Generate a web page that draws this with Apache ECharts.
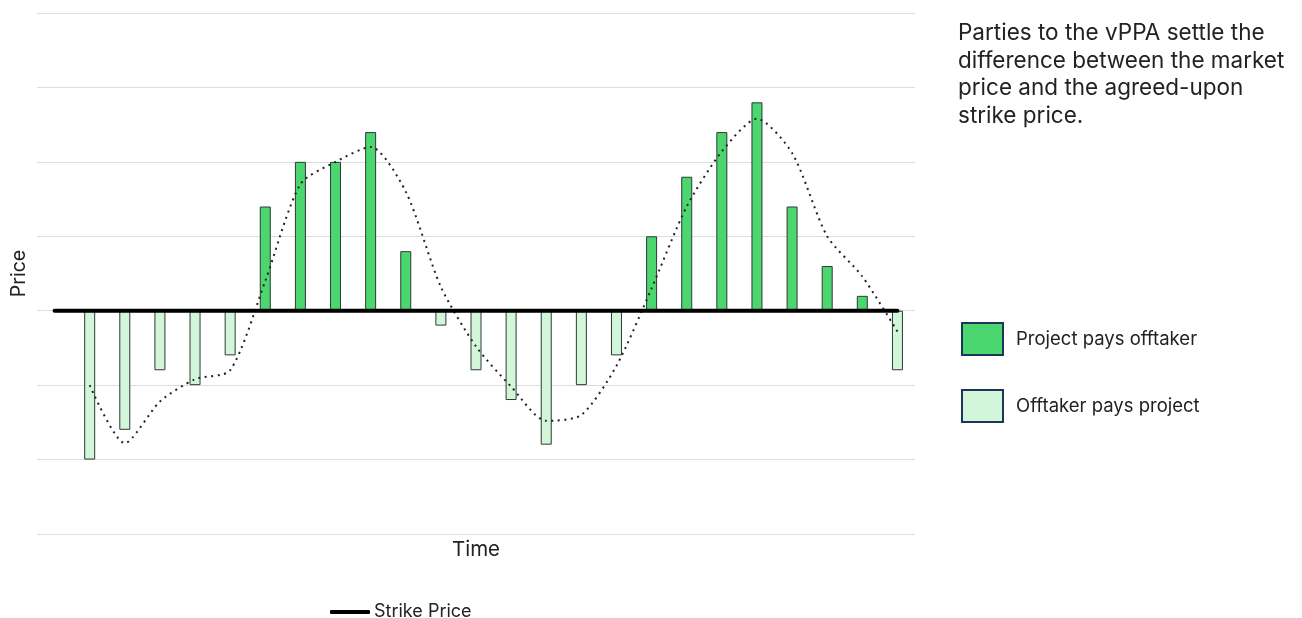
<!DOCTYPE html>
<html>
<head>
<meta charset="utf-8">
<script src="https://cdn.jsdelivr.net/npm/echarts@6/dist/echarts.min.js"></script>
<style>
  html, body { margin: 0; padding: 0; background: #fff; }
  #main { width: 1302px; height: 618px; }
</style>
</head>
<body>
<div id="main"></div>
<script>
// periods (first slot empty so the strike line starts before the first bar)
const periods = ['', 'P1', 'P2', 'P3', 'P4', 'P5', 'P6', 'P7', 'P8', 'P9', 'P10', 'P11', 'P12',
  'P13', 'P14', 'P15', 'P16', 'P17', 'P18', 'P19', 'P20', 'P21', 'P22', 'P23', 'P24']
// settlement amount per period (relative to strike)
const settlement = [null, -10, -8, -4, -5, -3, 7, 10, 10, 12, 4, -1, -4, -6, -9, -5, -3, 5, 9, 12, 14, 7, 3, 1, -4]
// market price relative to strike (dotted)
const marketPrice = [null, -5, -8.9, -6.1, -4.6, -4, 2, 8.5, 10, 11, 8, 1.6, -2.4, -5.1, -7.4, -7, -3.7, 1.5, 7, 10.7, 12.9, 10.6, 5, 2.3, -1.4]
const strike = periods.map(() => 0)

const positive = settlement.map(v => (v !== null && v > 0 ? v : null))
const negative = settlement.map(v => (v !== null && v < 0 ? v : null))

const font = 'Inter, "Noto Sans", sans-serif'
const chart = echarts.init(document.getElementById('main'))

chart.setOption({
  animation: false,
  textStyle: { fontFamily: font },
  title: {
    text: 'Parties to the vPPA settle the\ndifference between the market\nprice and the agreed-upon\nstrike price.',
    left: 958,
    top: 20,
    padding: 0,
    textStyle: { fontFamily: font, fontSize: 22.5, fontWeight: 'normal', color: '#222', lineHeight: 27.4 },
  },
  grid: { left: 37, right: 387, top: 13, bottom: 84 },
  legend: [
    {
      data: [{ name: 'Strike Price', icon: 'roundRect', itemStyle: { color: '#000' } }],
      left: 330,
      top: 603,
      padding: 0,
      itemWidth: 40,
      itemHeight: 4,
      textStyle: { fontFamily: font, fontSize: 18, color: '#222', padding: [0, 0, 0, -1] },
    },
    {
      data: ['Project pays offtaker', 'Offtaker pays project'],
      orient: 'vertical',
      left: 961,
      top: 322,
      padding: 0,
      itemWidth: 41,
      itemHeight: 32,
      itemGap: 33,
      icon: 'rect',
      itemStyle: { borderColor: '#1c3558', borderWidth: 2 },
      textStyle: { fontFamily: font, fontSize: 18.5, color: '#222', padding: [2, 0, 0, 8] },
    },
  ],
  xAxis: {
    type: 'category',
    data: periods,
    name: 'Time',
    nameLocation: 'middle',
    nameGap: 5,
    nameTextStyle: { fontFamily: font, fontSize: 20.5, color: '#222' },
    axisLine: { show: false },
    axisTick: { show: false },
    axisLabel: { show: false },
  },
  yAxis: {
    type: 'value',
    min: -15,
    max: 20,
    interval: 5,
    name: 'Price',
    nameLocation: 'middle',
    nameGap: 8,
    nameTextStyle: { fontFamily: font, fontSize: 19.5, color: '#222' },
    axisLabel: { show: false },
    axisLine: { show: false },
    axisTick: { show: false },
    splitLine: { lineStyle: { color: '#dddddd', width: 1 } },
  },
  series: [
    {
      name: 'Project pays offtaker',
      type: 'bar',
      data: positive,
      barWidth: 11,
      barGap: '-100%',
      itemStyle: { color: '#4cd66f', borderColor: '#2e3a33', borderWidth: 1 },
    },
    {
      name: 'Offtaker pays project',
      type: 'bar',
      data: negative,
      barWidth: 11,
      itemStyle: { color: '#d2f6da', borderColor: '#2e3a33', borderWidth: 1 },
    },
    {
      name: 'Market Price',
      type: 'line',
      data: marketPrice,
      symbol: 'none',
      smooth: 0.25,
      lineStyle: { color: '#222', width: 2, type: [2, 4.5] },
      z: 3,
    },
    {
      name: 'Strike Price',
      type: 'line',
      data: strike,
      symbol: 'none',
      lineStyle: { color: '#000', width: 4, cap: 'round' },
      z: 4,
    },
  ],
})
</script>
</body>
</html>
